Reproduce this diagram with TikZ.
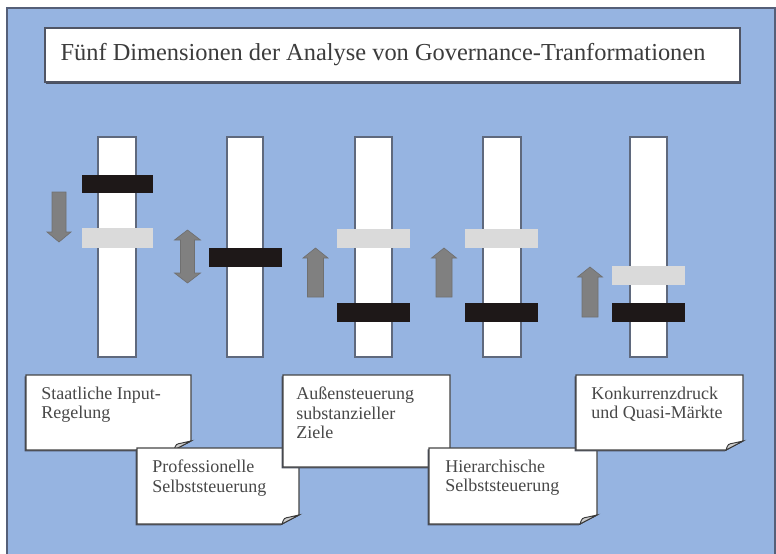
\documentclass[tikz,border=0pt]{standalone}
\usepackage{fontspec}
\setmainfont{Liberation Serif}
\definecolor{panelblue}{RGB}{150,180,225}
\definecolor{panelline}{RGB}{85,95,120}
\definecolor{bandblack}{RGB}{30,24,24}
\definecolor{bandgrey}{RGB}{218,218,218}
\definecolor{arrowgrey}{RGB}{128,128,128}
\definecolor{inkgrey}{RGB}{72,72,72}
\definecolor{titleink}{RGB}{60,60,60}
\definecolor{shadowgrey}{RGB}{72,80,98}
\begin{document}
\begin{tikzpicture}[x=0.75pt,y=0.75pt,yscale=-1,
  bar/.style={fill=white, draw={rgb, 255:red, 95; green, 105; blue, 125}, line width=0.9},
  darkband/.style={fill=bandblack},
  lightband/.style={fill=bandgrey},
  blockarrow/.style={fill=arrowgrey, draw={rgb, 255:red, 112; green, 112; blue, 112}, line width=0.5},
  note/.style={fill=white, draw={rgb, 255:red, 70; green, 70; blue, 70}, line width=0.9,
    preaction={fill=shadowgrey, transform canvas={xshift=-1.1pt, yshift=-1.1pt}}},
  fold/.style={fill={rgb, 255:red, 205; green, 205; blue, 205}, draw={rgb, 255:red, 55; green, 55; blue, 55}, line width=0.7},
  notetext/.style={anchor=north west, align=left, inner sep=0, text=inkgrey, font=\fontsize{13.5}{14.3}\selectfont}
]
\useasboundingbox (0,0) rectangle (776,554);

% Background
\fill [panelblue] (7,8) -- (776,8) -- (776,554) -- (7,554) -- cycle ;
\draw [panelline, line width=1] (7,554) -- (7,8) -- (775,8) -- (775,554) ;

% Title
\fill [shadowgrey] (46,30) -- (741,30) -- (741,84) -- (46,84) -- cycle ;
\draw [fill=white, draw={rgb, 255:red, 80; green, 85; blue, 100}, line width=0.9] (45,28) -- (740,28) -- (740,82) -- (45,82) -- cycle ;
\node (title) [text=titleink, font=\fontsize{18.3}{22}\selectfont] at (383,55) {Fünf Dimensionen der Analyse von Governance-Tranformationen};

% Slider bars
\draw [bar] (98, 137) -- (136,137) -- (136,357) -- (98, 357) -- cycle ;
\draw [bar] (227,137) -- (263,137) -- (263,357) -- (227,357) -- cycle ;
\draw [bar] (355,137) -- (392,137) -- (392,357) -- (355,357) -- cycle ;
\draw [bar] (483,137) -- (521,137) -- (521,357) -- (483,357) -- cycle ;
\draw [bar] (630,137) -- (667,137) -- (667,357) -- (630,357) -- cycle ;

% Bands
\fill [darkband]  (82, 175) -- (153,175) -- (153,193) -- (82, 193) -- cycle ;
\fill [lightband] (82, 228) -- (153,228) -- (153,248) -- (82, 248) -- cycle ;
\fill [darkband]  (209,248) -- (282,248) -- (282,267) -- (209,267) -- cycle ;
\fill [lightband] (337,229) -- (410,229) -- (410,248) -- (337,248) -- cycle ;
\fill [darkband]  (337,303) -- (410,303) -- (410,322) -- (337,322) -- cycle ;
\fill [lightband] (465,229) -- (538,229) -- (538,248) -- (465,248) -- cycle ;
\fill [darkband]  (465,303) -- (538,303) -- (538,322) -- (465,322) -- cycle ;
\fill [lightband] (612,266) -- (685,266) -- (685,285) -- (612,285) -- cycle ;
\fill [darkband]  (612,303) -- (685,303) -- (685,322) -- (612,322) -- cycle ;

% Movement arrows
\draw [blockarrow] (59,242) -- ++ (12,-10) -- ++ (-5,0) -- ++ (0,-40) -- ++ (-14,0) -- ++ (0,40) -- ++ (-5,0) -- cycle ;
\draw [blockarrow] (187.5,230) -- ++ (13,10) -- ++ (-6,0) -- ++ (0,33) -- ++ (6,0) -- ++ (-13,10) -- ++ (-13,-10) -- ++ (6,0) -- ++ (0,-33) -- ++ (-6,0) -- cycle ;
\draw [blockarrow] (315.5,248) -- ++ (12.5,10) -- ++ (-4.5,0) -- ++ (0,39) -- ++ (-16,0) -- ++ (0,-39) -- ++ (-4.5,0) -- cycle ;
\draw [blockarrow] (444,248) -- ++ (12.5,10) -- ++ (-4.5,0) -- ++ (0,39) -- ++ (-16,0) -- ++ (0,-39) -- ++ (-4.5,0) -- cycle ;
\draw [blockarrow] (590,267) -- ++ (12.5,10) -- ++ (-4.5,0) -- ++ (0,40) -- ++ (-16,0) -- ++ (0,-40) -- ++ (-4.5,0) -- cycle ;

% Notes
\draw [note] (26,375) -- (191,375) -- (191,441) .. controls (185,444) and (179,447) .. (174,450) -- (26,450) -- cycle ;
\draw [fold] (174,450) .. controls (176,444) .. (182,443) -- (191,441) .. controls (183,445) .. (174,450) -- cycle ;
\node (n1) [notetext] at (41,387) {Staatliche Input-\\Regelung};

\draw [note] (137,448) -- (299,448) -- (299,515) .. controls (293,518) and (287,521) .. (282,524) -- (137,524) -- cycle ;
\draw [fold] (282,524) .. controls (284,518) .. (290,517) -- (299,515) .. controls (291,519) .. (282,524) -- cycle ;
\node (n2) [notetext] at (152,460) {Professionelle\\Selbststeuerung};

\draw [note] (283,375) -- (450,375) -- (450,458) .. controls (444,461) and (438,464) .. (433,467) -- (283,467) -- cycle ;
\draw [fold] (433,467) .. controls (435,461) .. (441,460) -- (450,458) .. controls (442,462) .. (433,467) -- cycle ;
\node (n3) [notetext] at (296,387) {Außensteuerung\\substanzieller\\Ziele};

\draw [note] (429,448) -- (597,448) -- (597,515) .. controls (591,518) and (585,521) .. (580,524) -- (429,524) -- cycle ;
\draw [fold] (580,524) .. controls (582,518) .. (588,517) -- (597,515) .. controls (589,519) .. (580,524) -- cycle ;
\node (n4) [notetext] at (445,460) {Hierarchische\\Selbststeuerung};

\draw [note] (576,375) -- (743,375) -- (743,441) .. controls (737,444) and (731,447) .. (726,450) -- (576,450) -- cycle ;
\draw [fold] (726,450) .. controls (728,444) .. (734,443) -- (743,441) .. controls (735,445) .. (726,450) -- cycle ;
\node (n5) [notetext] at (591,387) {Konkurrenzdruck\\und Quasi-Märkte};

\end{tikzpicture}
\end{document}
